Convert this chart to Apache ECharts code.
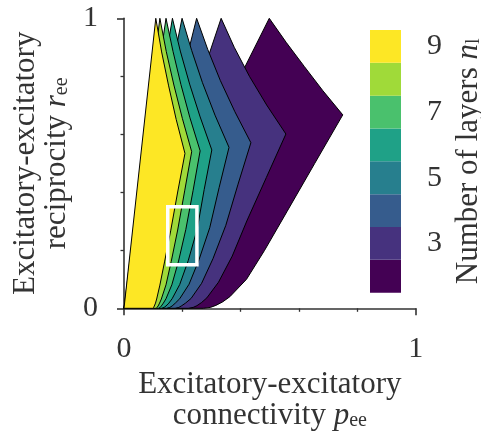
<!DOCTYPE html>
<html>
<head>
<meta charset="utf-8">
<script src="https://cdn.jsdelivr.net/npm/echarts@6/dist/echarts.min.js"></script>
<style>
  html, body { margin: 0; padding: 0; background: #ffffff; }
  #chart { width: 481px; height: 434px; }
</style>
</head>
<body>
<div id="chart"></div>
<script>
// Number of layers for each feasible region (drawn back to front)
const layerCounts = [2, 3, 4, 5, 6, 7, 8, 9];
const layerColors = ['#440154', '#46327e', '#365c8d', '#277f8e', '#1fa187', '#4ac16d', '#a0da39', '#fde725'];

// Top corner of each region on r_ee = 1 (the left edge runs from the origin to it)
const apexP = [0.498, 0.333, 0.249, 0.199, 0.166, 0.144, 0.123, 0.109];

// Upper right edge, from the top corner down to the kink, [p_ee, r_ee]
const upperEdges = [
  [[0.556, 0.917], [0.618, 0.834], [0.682, 0.750]],
  [[0.378, 0.900], [0.430, 0.800], [0.489, 0.701]],
  [[0.287, 0.893], [0.330, 0.786], [0.380, 0.678]],
  [[0.232, 0.889], [0.269, 0.778], [0.312, 0.666]],
  [[0.193, 0.887], [0.225, 0.773], [0.261, 0.660]],
  [[0.168, 0.886], [0.195, 0.772], [0.226, 0.657]],
  [[0.145, 0.885], [0.171, 0.770], [0.200, 0.655]],
  [[0.129, 0.884], [0.153, 0.767], [0.179, 0.651]]
];

// Kink where the upper edge meets the lower edge
const kinks = [
  [0.750, 0.667], [0.555, 0.601], [0.435, 0.571], [0.360, 0.555],
  [0.301, 0.546], [0.261, 0.543], [0.232, 0.540], [0.209, 0.534]
];

// Lower right edge, from the kink down towards r_ee = 0
const lowerEdges = [
  [[0.654, 0.500], [0.559, 0.334], [0.482, 0.200], [0.420, 0.100], [0.363, 0.040], [0.338, 0.022], [0.315, 0.010], [0.296, 0.003]],
  [[0.488, 0.451], [0.421, 0.301], [0.371, 0.180], [0.324, 0.090], [0.284, 0.036], [0.266, 0.020], [0.250, 0.009], [0.237, 0.003]],
  [[0.391, 0.428], [0.349, 0.286], [0.305, 0.171], [0.266, 0.086], [0.230, 0.034], [0.211, 0.018], [0.198, 0.009], [0.188, 0.003]],
  [[0.326, 0.416], [0.294, 0.278], [0.257, 0.167], [0.223, 0.083], [0.191, 0.033], [0.176, 0.018], [0.165, 0.008], [0.157, 0.003]],
  [[0.275, 0.410], [0.251, 0.273], [0.220, 0.164], [0.191, 0.082], [0.165, 0.033], [0.154, 0.018], [0.144, 0.008], [0.1375, 0.003]],
  [[0.237, 0.407], [0.212, 0.272], [0.187, 0.163], [0.164, 0.081], [0.144, 0.033], [0.135, 0.018], [0.128, 0.008], [0.124, 0.003]],
  [[0.208, 0.405], [0.184, 0.270], [0.162, 0.162], [0.144, 0.081], [0.128, 0.032], [0.122, 0.018], [0.117, 0.008], [0.113, 0.003]],
  [[0.184, 0.401], [0.160, 0.267], [0.139, 0.160], [0.123, 0.080], [0.112, 0.032], [0.108, 0.018], [0.104, 0.008], [0.1015, 0.003]]
];

// Where each lower edge reaches r_ee = 0
const bottomP = [0.272, 0.220, 0.175, 0.146, 0.129, 0.118, 0.110, 0.100];

// Highlighted window [p min, r min, p max, r max]
const zoomBox = [0.15, 0.15, 0.25, 0.35];

// Colour bar ticks and labels
const colorbarTicks = [2, 3, 4, 5, 6, 7, 8, 9];
const colorbarLabels = [3, 5, 7, 9];

const FONT = 'Liberation Serif';
const TEXT = '#333333';
const AXIS = '#333333';
const FS = 30;
const TFS = 31;

function regionItem(params, api) {
  const i = params.dataIndex;
  const pts = [[0, 0], [apexP[i], 1]]
    .concat(upperEdges[i], [kinks[i]], lowerEdges[i], [[bottomP[i], 0]]);
  return {
    type: 'polygon',
    shape: { points: pts.map(p => api.coord(p)) },
    style: { fill: layerColors[i], stroke: '#000000', lineWidth: 1, lineJoin: 'miter' }
  };
}

function boxItem(params, api) {
  const a = api.coord([api.value(0), api.value(1)]);
  const b = api.coord([api.value(2), api.value(3)]);
  return {
    type: 'rect',
    shape: { x: a[0], y: b[1], width: b[0] - a[0], height: a[1] - b[1] },
    style: { fill: 'none', stroke: '#ffffff', lineWidth: 3.5 }
  };
}

function barItem(params, api) {
  const n = api.value(1);
  const a = api.coord([0, n - 0.5]);
  const b = api.coord([1, n + 0.5]);
  return {
    type: 'rect',
    shape: { x: a[0], y: b[1], width: b[0] - a[0], height: a[1] - b[1] },
    style: { fill: layerColors[layerCounts.indexOf(n)] }
  };
}

const richText = {
  t: { fontFamily: FONT, fontSize: TFS, color: TEXT, lineHeight: 31 },
  i: { fontFamily: FONT, fontSize: TFS, color: TEXT, fontStyle: 'italic', lineHeight: 31 },
  s: { fontFamily: FONT, fontSize: 20, color: TEXT, lineHeight: 11, verticalAlign: 'bottom' }
};

const tickLabel = { fontFamily: FONT, fontSize: FS, color: TEXT, margin: 26 };

const chart = echarts.init(document.getElementById('chart'), null, { renderer: 'canvas' });
chart.setOption({
  animation: false,
  backgroundColor: '#ffffff',
  grid: [
    { left: 124, top: 18.3, width: 291.7, height: 290, outerBoundsMode: 'none', containLabel: false },
    { left: 370, top: 30, width: 31, height: 262.7, outerBoundsMode: 'none', containLabel: false }
  ],
  xAxis: [
    {
      gridIndex: 0, type: 'value', min: 0, max: 1, interval: 1,
      axisLine: { show: true, onZero: false, lineStyle: { color: AXIS, width: 1.6 } },
      axisTick: { show: true, length: 7, lineStyle: { color: AXIS, width: 1.6 } },
      minorTick: { show: true, splitNumber: 5, length: 3.5, lineStyle: { color: AXIS, width: 1.3 } },
      splitLine: { show: false }, minorSplitLine: { show: false },
      axisLabel: tickLabel,
      name: '{t|Excitatory-excitatory}\n{t|connectivity }{i|p}{s|ee}',
      nameLocation: 'middle', nameGap: 58,
      nameTextStyle: { rich: richText, align: 'center' }
    },
    { gridIndex: 1, type: 'value', min: 0, max: 1, show: false }
  ],
  yAxis: [
    {
      gridIndex: 0, type: 'value', min: 0, max: 1, interval: 1,
      axisLine: { show: true, onZero: false, lineStyle: { color: AXIS, width: 1.6 } },
      axisTick: { show: true, length: 7, lineStyle: { color: AXIS, width: 1.6 } },
      minorTick: { show: true, splitNumber: 5, length: 3.5, lineStyle: { color: AXIS, width: 1.3 } },
      splitLine: { show: false }, minorSplitLine: { show: false },
      axisLabel: tickLabel,
      name: '{t|Excitatory-excitatory}\n{t|reciprocity }{i|r}{s|ee}',
      nameLocation: 'middle', nameGap: 49, nameRotate: 90,
      nameTextStyle: { rich: richText, align: 'center' }
    },
    {
      gridIndex: 1, type: 'value', position: 'right', min: 1.5, max: 9.5,
      axisLine: { show: false },
      axisTick: { show: true, length: 7, customValues: colorbarTicks, lineStyle: { color: AXIS, width: 1.6 } },
      splitLine: { show: false },
      axisLabel: Object.assign({}, tickLabel, { customValues: colorbarLabels, margin: 26 }),
      name: '{t|Number of layers }{i|n}{s|l}',
      nameLocation: 'middle', nameGap: 52, nameRotate: 90,
      nameTextStyle: { rich: richText, align: 'center' }
    }
  ],
  series: [
    {
      type: 'custom', xAxisIndex: 0, yAxisIndex: 0, clip: false, z: 2,
      data: apexP.map(p => [p, 1]),
      renderItem: regionItem
    },
    {
      type: 'custom', xAxisIndex: 0, yAxisIndex: 0, clip: false, z: 3,
      data: [zoomBox],
      renderItem: boxItem
    },
    {
      type: 'custom', xAxisIndex: 1, yAxisIndex: 1, clip: false, z: 2,
      data: layerCounts.map(n => [0.5, n]),
      encode: { x: 0, y: 1 },
      renderItem: barItem
    }
  ]
});
</script>
</body>
</html>
